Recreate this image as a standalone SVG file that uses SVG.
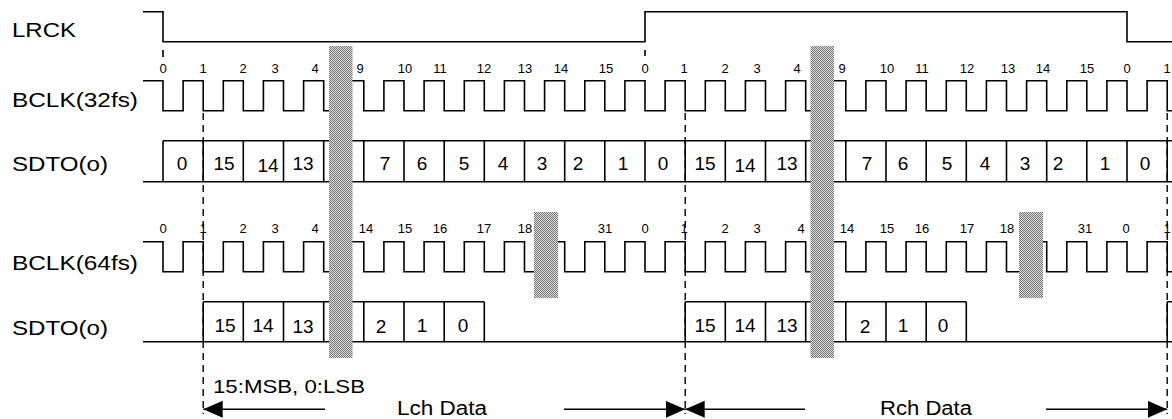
<svg xmlns="http://www.w3.org/2000/svg" width="1172" height="419" viewBox="0 0 1172 419">
<style>
.w{fill:none;stroke:#000;stroke-width:1.6}
.lbl{font-family:"Liberation Sans",Arial,sans-serif;font-size:21px;fill:#000}
.tk{font-family:"Liberation Sans",Arial,sans-serif;font-size:13px;fill:#000;text-anchor:middle}
.cd{font-family:"Liberation Sans",Arial,sans-serif;font-size:19px;fill:#000;text-anchor:middle}
.note{font-family:"Liberation Sans",Arial,sans-serif;font-size:18px;fill:#000}
.dash{fill:none;stroke:#000;stroke-width:1.4;stroke-dasharray:7 5}
.brk{fill:url(#hatch);stroke:none}
.arr{fill:none;stroke:#000;stroke-width:1.6}
</style>
<defs>
<pattern id="hatch" width="2" height="2" patternUnits="userSpaceOnUse">
<rect width="2" height="2" fill="#e0e0e0"/>
<rect width="1" height="1" fill="#727272"/>
<rect x="1" y="1" width="1" height="1" fill="#727272"/>
</pattern>
<marker id="ah" markerUnits="userSpaceOnUse" markerWidth="20" markerHeight="18" refX="19.5" refY="8.5" orient="auto">
<path d="M0,0 L19.5,8.5 L0,17 z" fill="#000"/>
</marker>
</defs>

<g id="lrck">
<text class="lbl" x="12" y="36.7" textLength="64" lengthAdjust="spacingAndGlyphs">LRCK</text>
<path class="w" d="M143,11.7 H163 V41.7 H645 V11.7 H1127 V41.7 H1172"/>
</g>

<g id="bclk32">
<text class="lbl" x="12" y="106.5" textLength="126" lengthAdjust="spacingAndGlyphs">BCLK(32fs)</text>
<path class="w" d="M143,80.7 H163 V110.7 H183.1 V80.7 H203.2 V110.7 H223.3 V80.7 H243.3 V110.7 H263.4 V80.7 H283.5 V110.7 H303.6 V80.7 H323.7 V110.7 H343.8 V80.7 H363.8 V110.7 H383.9 V80.7 H404 V110.7 H424.1 V80.7 H444.2 V110.7 H464.3 V80.7 H484.3 V110.7 H504.4 V80.7 H524.5 V110.7 H544.6 V80.7 H564.7 V110.7 H584.8 V80.7 H604.8 V110.7 H624.9 V80.7 H645 V110.7 H665.1 V80.7 H685.2 V110.7 H705.3 V80.7 H725.3 V110.7 H745.4 V80.7 H765.5 V110.7 H785.6 V80.7 H805.7 V110.7 H825.8 V80.7 H845.8 V110.7 H865.9 V80.7 H886 V110.7 H906.1 V80.7 H926.2 V110.7 H946.3 V80.7 H966.3 V110.7 H986.4 V80.7 H1006.5 V110.7 H1026.6 V80.7 H1046.7 V110.7 H1066.8 V80.7 H1086.8 V110.7 H1106.9 V80.7 H1127 V110.7 H1147.1 V80.7 H1167.2 V110.7 H1172"/>
<text class="tk" x="163" y="73">0</text><text class="tk" x="203" y="73">1</text><text class="tk" x="243" y="73">2</text><text class="tk" x="275" y="73">3</text><text class="tk" x="315" y="73">4</text><text class="tk" x="360" y="73">9</text><text class="tk" x="405" y="73">10</text><text class="tk" x="440" y="73">11</text><text class="tk" x="484" y="73">12</text><text class="tk" x="525" y="73">13</text><text class="tk" x="561" y="73">14</text><text class="tk" x="606" y="73">15</text><text class="tk" x="645" y="73">0</text><text class="tk" x="684" y="73">1</text><text class="tk" x="725" y="73">2</text><text class="tk" x="757" y="73">3</text><text class="tk" x="797" y="73">4</text><text class="tk" x="842" y="73">9</text><text class="tk" x="887" y="73">10</text><text class="tk" x="922" y="73">11</text><text class="tk" x="967" y="73">12</text><text class="tk" x="1008" y="73">13</text><text class="tk" x="1043" y="73">14</text><text class="tk" x="1087" y="73">15</text><text class="tk" x="1127" y="73">0</text><text class="tk" x="1167" y="73">1</text>
</g>

<g id="sdto32">
<text class="lbl" x="12" y="171" textLength="96" lengthAdjust="spacingAndGlyphs">SDTO(o)</text>
<path class="w" d="M143,181.7 H1172 M163,140.7 H1172 M163,140.7 V181.7 M203.2,140.7 V181.7 M243.3,140.7 V181.7 M283.5,140.7 V181.7 M323.7,140.7 V181.7 M363.8,140.7 V181.7 M404,140.7 V181.7 M444.2,140.7 V181.7 M484.3,140.7 V181.7 M524.5,140.7 V181.7 M564.7,140.7 V181.7 M604.8,140.7 V181.7 M645,140.7 V181.7 M685.2,140.7 V181.7 M725.3,140.7 V181.7 M765.5,140.7 V181.7 M805.7,140.7 V181.7 M845.8,140.7 V181.7 M886,140.7 V181.7 M926.2,140.7 V181.7 M966.3,140.7 V181.7 M1006.5,140.7 V181.7 M1046.7,140.7 V181.7 M1086.8,140.7 V181.7 M1127,140.7 V181.7 M1167.2,140.7 V181.7"/>
<text class="cd" x="182" y="170">0</text><text class="cd" x="224" y="170">15</text><text class="cd" x="268" y="171.5">14</text><text class="cd" x="303" y="170">13</text><text class="cd" x="385" y="170">7</text><text class="cd" x="422" y="170">6</text><text class="cd" x="464" y="170">5</text><text class="cd" x="503" y="170">4</text><text class="cd" x="542" y="170">3</text><text class="cd" x="578" y="170">2</text><text class="cd" x="623" y="170">1</text><text class="cd" x="663" y="170">0</text><text class="cd" x="705" y="170">15</text><text class="cd" x="745" y="171.5">14</text><text class="cd" x="787" y="170">13</text><text class="cd" x="867" y="170">7</text><text class="cd" x="903" y="170">6</text><text class="cd" x="947" y="170">5</text><text class="cd" x="985" y="170">4</text><text class="cd" x="1025" y="170">3</text><text class="cd" x="1058" y="170">2</text><text class="cd" x="1105" y="170">1</text><text class="cd" x="1145" y="170">0</text>
</g>

<g id="bclk64">
<text class="lbl" x="12" y="269.5" textLength="126" lengthAdjust="spacingAndGlyphs">BCLK(64fs)</text>
<path class="w" d="M143,241.7 H163 V271.7 H183.1 V241.7 H203.2 V271.7 H223.3 V241.7 H243.3 V271.7 H263.4 V241.7 H283.5 V271.7 H303.6 V241.7 H323.7 V271.7 H343.8 V241.7 H363.8 V271.7 H383.9 V241.7 H404 V271.7 H424.1 V241.7 H444.2 V271.7 H464.3 V241.7 H484.3 V271.7 H504.4 V241.7 H524.5 V271.7 H544.6 V241.7 H564.7 V271.7 H584.8 V241.7 H604.8 V271.7 H624.9 V241.7 H645 V271.7 H665.1 V241.7 H685.2 V271.7 H705.3 V241.7 H725.3 V271.7 H745.4 V241.7 H765.5 V271.7 H785.6 V241.7 H805.7 V271.7 H825.8 V241.7 H845.8 V271.7 H865.9 V241.7 H886 V271.7 H906.1 V241.7 H926.2 V271.7 H946.3 V241.7 H966.3 V271.7 H986.4 V241.7 H1006.5 V271.7 H1026.6 V241.7 H1046.7 V271.7 H1066.8 V241.7 H1086.8 V271.7 H1106.9 V241.7 H1127 V271.7 H1147.1 V241.7 H1167.2 V271.7 H1172"/>
<text class="tk" x="163" y="233">0</text><text class="tk" x="203" y="233">1</text><text class="tk" x="243" y="233">2</text><text class="tk" x="275" y="233">3</text><text class="tk" x="315" y="233">4</text><text class="tk" x="366" y="233">14</text><text class="tk" x="405" y="233">15</text><text class="tk" x="440" y="233">16</text><text class="tk" x="484" y="233">17</text><text class="tk" x="525" y="233">18</text><text class="tk" x="605" y="233">31</text><text class="tk" x="645" y="233">0</text><text class="tk" x="684" y="233">1</text><text class="tk" x="725" y="233">2</text><text class="tk" x="757" y="233">3</text><text class="tk" x="801" y="233">4</text><text class="tk" x="847" y="233">14</text><text class="tk" x="887" y="233">15</text><text class="tk" x="922" y="233">16</text><text class="tk" x="967" y="233">17</text><text class="tk" x="1007" y="233">18</text><text class="tk" x="1085" y="233">31</text><text class="tk" x="1126" y="233">0</text><text class="tk" x="1167" y="233">1</text>
</g>

<g id="sdto64">
<text class="lbl" x="12" y="335" textLength="96" lengthAdjust="spacingAndGlyphs">SDTO(o)</text>
<path class="w" d="M143,341.7 H1172 M203.2,301.7 H484.3 M685.2,301.7 H966.3 M1167.2,301.7 H1172 M203.2,301.7 V341.7 M243.3,301.7 V341.7 M283.5,301.7 V341.7 M323.7,301.7 V341.7 M363.8,301.7 V341.7 M404,301.7 V341.7 M444.2,301.7 V341.7 M484.3,301.7 V341.7 M685.2,301.7 V341.7 M725.3,301.7 V341.7 M765.5,301.7 V341.7 M805.7,301.7 V341.7 M845.8,301.7 V341.7 M886,301.7 V341.7 M926.2,301.7 V341.7 M966.3,301.7 V341.7 M1167.2,301.7 V341.7"/>
<text class="cd" x="225" y="331.7">15</text><text class="cd" x="263" y="331.7">14</text><text class="cd" x="303" y="332.5">13</text><text class="cd" x="381" y="332.5">2</text><text class="cd" x="422" y="331.7">1</text><text class="cd" x="463" y="331.7">0</text><text class="cd" x="705" y="331.7">15</text><text class="cd" x="745" y="331.7">14</text><text class="cd" x="787" y="331.7">13</text><text class="cd" x="865" y="332.5">2</text><text class="cd" x="903" y="331.7">1</text><text class="cd" x="943" y="331.7">0</text>
</g>

<g id="breaks">
<rect class="brk" x="329" y="46" width="23.5" height="312"/>
<rect class="brk" x="810.5" y="46" width="23.5" height="312"/>
<rect class="brk" x="534" y="212" width="24" height="86"/>
<rect class="brk" x="1019" y="212" width="24" height="86"/>
</g>

<g id="connectors">
<path class="w" d="M163,50 V57 M645,50 V56"/>
<path class="dash" d="M203.2,113 V414 M685.2,113 V414 M1167.2,113 V414"/>
<path class="arr" d="M325,409.3 H203.2" marker-end="url(#ah)"/>
<path class="arr" d="M564,409.3 H685.2" marker-end="url(#ah)"/>
<path class="arr" d="M805,409.3 H685.2" marker-end="url(#ah)"/>
<path class="arr" d="M1046,409.3 H1167.2" marker-end="url(#ah)"/>
</g>

<g id="annotations">
<text class="note" x="213" y="392.7" textLength="152" lengthAdjust="spacingAndGlyphs">15:MSB, 0:LSB</text>
<text class="lbl" x="397" y="415" style="font-size:20px" textLength="90" lengthAdjust="spacingAndGlyphs">Lch Data</text>
<text class="lbl" x="880" y="415" style="font-size:20px" textLength="92" lengthAdjust="spacingAndGlyphs">Rch Data</text>
</g>
</svg>
